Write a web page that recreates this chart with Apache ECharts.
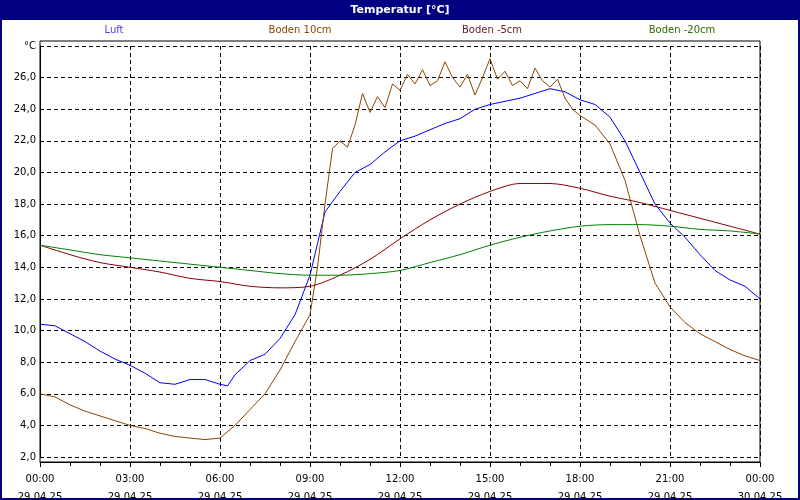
<!DOCTYPE html><html><head><meta charset="utf-8">
<script src="https://cdn.jsdelivr.net/npm/echarts@6/dist/echarts.min.js"></script>
<style>body{margin:0}#c{width:800px;height:500px}</style></head><body><div id="c"></div><script>
const seriesNames=['Luft','Boden 10cm','Boden -5cm','Boden -20cm'];
const colors=['#0000ff','#8b4500','#8b0000','#008000'];
const hHalf=[0,0.5,1,1.5,2,2.5,3,3.5,4,4.5,5,5.5,6,6.25,6.5,7,7.5,8,8.5,9,9.25,9.5,10,10.5,11,11.5,12,12.5,13,13.5,14,14.5,15,15.5,16,16.5,17,17.5,18,18.5,19,19.5,20,20.5,21,21.5,22,22.5,23,23.5,24];
const luft=[10.4,10.3,9.8,9.3,8.7,8.2,7.8,7.3,6.7,6.6,6.9,6.9,6.6,6.5,7.2,8.1,8.5,9.5,11.0,13.5,15.5,17.5,18.8,20.0,20.5,21.3,22.0,22.3,22.7,23.1,23.4,24.0,24.3,24.5,24.7,25.0,25.3,25.1,24.6,24.3,23.5,22.0,20.0,18.0,16.8,15.9,14.8,13.8,13.2,12.8,12.0];
const hB10=[0,0.5,1,1.5,2,2.5,3,3.5,4,4.5,5,5.5,6,6.5,7,7.5,8,8.5,9,9.25,9.5,9.75,10,10.25,10.5,10.75,11,11.25,11.5,11.75,12,12.25,12.5,12.75,13,13.25,13.5,13.75,14,14.25,14.5,14.75,15,15.25,15.5,15.75,16,16.25,16.5,16.75,17,17.25,17.5,17.75,18,18.5,19,19.5,20,20.5,21,21.5,22,22.5,23,23.5,24];
const boden10=[6.0,5.8,5.3,4.9,4.6,4.3,4.0,3.8,3.5,3.3,3.2,3.1,3.2,4.0,5.0,6.0,7.5,9.3,11.0,14.0,18.0,21.5,22.0,21.6,23.0,25.0,23.8,24.8,24.1,25.6,25.2,26.2,25.6,26.5,25.5,25.8,27.0,26.0,25.4,26.2,24.9,26.0,27.2,25.9,26.4,25.5,25.8,25.3,26.6,25.8,25.4,25.9,24.7,24.0,23.6,23.0,21.8,19.5,16.0,13.0,11.5,10.5,9.8,9.3,8.8,8.4,8.1];
const hHour=[0,1,2,3,4,5,6,7,8,9,10,11,12,13,14,15,16,17,18,19,20,21,22,23,24];
const boden5=[15.4,14.8,14.3,14.0,13.7,13.3,13.1,12.8,12.7,12.8,13.5,14.5,15.8,17.0,18.0,18.8,19.3,19.3,19.0,18.5,18.1,17.6,17.1,16.6,16.1];
const boden20=[15.4,15.1,14.8,14.6,14.4,14.2,14.0,13.8,13.6,13.5,13.5,13.6,13.8,14.3,14.8,15.4,15.9,16.3,16.6,16.7,16.7,16.6,16.4,16.3,16.1];
const pair=(h,v)=>h.map((x,i)=>[x,v[i]]);
const F='DejaVu Sans';
const ch=echarts.init(document.getElementById('c'));
const legX=[114,300,492,682];
const legCol=['#5a3cd8','#8b4500','#6b2020','#2e6b00'];
ch.setOption({backgroundColor:'#fff',animation:false,
graphic:[{type:'rect',shape:{x:0,y:0,width:800,height:500},style:{fill:'none',stroke:'#000080',lineWidth:4},z:0},
{type:'rect',shape:{x:0,y:0,width:800,height:20},style:{fill:'#000080'}},
{type:'text',x:400,y:10,style:{text:'Temperatur [°C]',fill:'#fff',font:'bold 11px '+F,align:'center',verticalAlign:'middle'}},
{type:'rect',shape:{x:40,y:41,width:720,height:421},style:{fill:'none',stroke:'#000',lineWidth:1}},
...seriesNames.map((n,i)=>({type:'text',x:legX[i],y:30,style:{text:n,fill:legCol[i],font:'10px '+F,align:'center',verticalAlign:'middle'}}))],
grid:{left:40,right:40,top:46,bottom:43,containLabel:false,outerBoundsMode:'none'},
xAxis:{type:'value',min:0,max:24,interval:3,position:'bottom',offset:5,
 axisLine:{onZero:false,lineStyle:{color:'#000'}},axisTick:{length:5,inside:false,lineStyle:{color:'#000'}},
 minorTick:{show:true,splitNumber:3,length:4,lineStyle:{color:'#000'}},
 splitLine:{lineStyle:{color:'#000',type:[4,3]}},
 axisLabel:{color:'#000',fontFamily:F,fontSize:10,lineHeight:18,margin:8,
  formatter:v=>v===24?'00:00\n30.04.25':String(v).padStart(2,'0')+':00\n29.04.25'}},
yAxis:{type:'value',min:2,max:28,interval:2,
 axisLine:{show:true,lineStyle:{color:'#000'}},axisTick:{show:false},
 splitLine:{lineStyle:{color:'#000',type:[4,3]}},
 axisLabel:{color:'#000',fontFamily:F,fontSize:10,margin:4,formatter:v=>v===28?'°C':v.toFixed(1).replace('.',',')}},
series:[
 {name:'Luft',type:'line',data:pair(hHalf,luft)},
 {name:'Boden 10cm',type:'line',data:pair(hB10,boden10)},
 {name:'Boden -5cm',type:'line',data:pair(hHour,boden5),smooth:0.3},
 {name:'Boden -20cm',type:'line',data:pair(hHour,boden20),smooth:0.3}
].map((s,i)=>Object.assign(s,{showSymbol:false,lineStyle:{width:1,color:colors[i]},itemStyle:{color:colors[i]}}))
});
</script></body></html>
